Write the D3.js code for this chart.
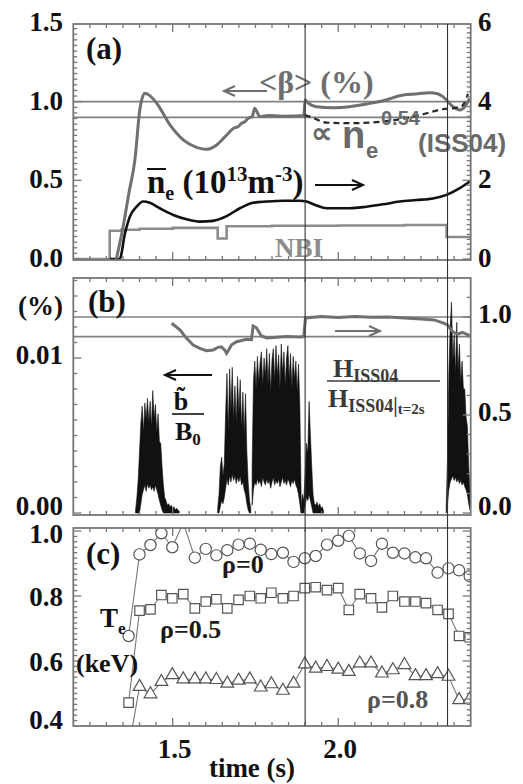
<!DOCTYPE html>
<html>
<head>
<meta charset="utf-8">
<script src="https://cdn.jsdelivr.net/npm/d3@7"></script>
<style>
  body { margin: 0; background: #fff; }
  svg text { font-family: "Liberation Serif", "Times New Roman", serif; font-weight: bold; }
</style>
</head>
<body>
<div id="chart"></div>
<script>
// ---- panel (a): <beta>, n_e, NBI ----
const betaT = [1.330, 1.350, 1.368, 1.386, 1.401, 1.416, 1.430, 1.452, 1.492, 1.532, 1.572, 1.603, 1.633, 1.663, 1.683, 1.698, 1.708, 1.718, 1.728, 1.740, 1.748, 1.756, 1.763, 1.790, 1.830, 1.864, 1.896, 1.900, 1.910, 1.934, 1.985, 2.035, 2.085, 2.136, 2.196, 2.240, 2.276, 2.300, 2.316, 2.347, 2.367, 2.382, 2.397];
const betaV = [0.0, 0.20, 0.42, 0.63, 0.95, 1.053, 1.04, 0.99, 0.852, 0.757, 0.71, 0.697, 0.725, 0.788, 0.83, 0.842, 0.863, 0.872, 0.894, 0.905, 0.958, 0.93, 0.905, 0.912, 0.908, 0.909, 0.912, 1.01, 0.99, 0.968, 0.962, 0.968, 0.985, 1.006, 1.043, 1.05, 1.057, 1.05, 1.032, 0.968, 0.947, 0.968, 1.02];
const issT = [1.899, 1.915, 1.965, 2.035, 2.135, 2.236, 2.316, 2.357, 2.375, 2.392];
const issV = [0.915, 0.905, 0.867, 0.863, 0.873, 0.909, 0.952, 0.962, 0.975, 1.05];
const neT = [1.310, 1.340, 1.356, 1.371, 1.391, 1.411, 1.431, 1.461, 1.502, 1.542, 1.582, 1.622, 1.663, 1.703, 1.743, 1.784, 1.834, 1.884, 1.904, 1.934, 1.965, 2.035, 2.085, 2.135, 2.186, 2.236, 2.286, 2.327, 2.367, 2.397];
const neV = [0, 0, 0.65, 1.08, 1.33, 1.46, 1.43, 1.29, 1.12, 1.01, 0.95, 0.97, 1.09, 1.29, 1.43, 1.46, 1.48, 1.48, 1.46, 1.36, 1.29, 1.29, 1.33, 1.39, 1.46, 1.50, 1.54, 1.63, 1.80, 1.97];
const nbiT = [1.200, 1.310, 1.345, 1.400, 1.500, 1.636, 1.663, 1.800, 2.000, 2.200, 2.327, 2.400];
const nbiV = [0, 0.18, 0.186, 0.192, 0.198, 0.13, 0.208, 0.211, 0.213, 0.216, 0.14, 0.14];
const refA = [1.0, 0.9];

// ---- panel (b): b/B0 bursts and H ratio ----
const burstStart = [1.388, 1.636, 1.740, 1.888, 2.326];
const burstStep = 0.004;
const burstHi = [
  [0.0002, 0.0010, 0.0022, 0.0040, 0.0058, 0.0069, 0.0052, 0.0071, 0.0060, 0.0074, 0.0058, 0.0072, 0.0055, 0.0079, 0.0061, 0.0070, 0.0052, 0.0064, 0.0046, 0.0045, 0.0030, 0.0018, 0.0010, 0.0008, 0.0005, 0.0006, 0.0004, 0.0005, 0.0003, 0.0004, 0.0002, 0.0003, 0.0002, 0.0001],
  [0.0003, 0.0012, 0.0030, 0.0036, 0.0024, 0.0032, 0.0065, 0.0090, 0.0052, 0.0093, 0.0066, 0.0094, 0.0060, 0.0082, 0.0058, 0.0088, 0.0064, 0.0086, 0.0054, 0.0078, 0.0050, 0.0077, 0.0040, 0.0020, 0.0008, 0.0003],
  [0.0030, 0.0085, 0.0098, 0.0080, 0.0101, 0.0084, 0.0097, 0.0104, 0.0082, 0.0100, 0.0088, 0.0106, 0.0083, 0.0103, 0.0078, 0.0099, 0.0106, 0.0085, 0.0108, 0.0088, 0.0102, 0.0080, 0.0109, 0.0090, 0.0104, 0.0082, 0.0100, 0.0108, 0.0086, 0.0103, 0.0080, 0.0101, 0.0086, 0.0098, 0.0078, 0.0096, 0.0070, 0.0010],
  [0.0004, 0.0012, 0.0008, 0.0025, 0.0045, 0.0038, 0.0072, 0.0050, 0.0030, 0.0012, 0.0006, 0.0005, 0.0007, 0.0004, 0.0006, 0.0003, 0.0004, 0.0001],
  [0.0004, 0.0035, 0.0090, 0.0119, 0.0136, 0.0098, 0.0115, 0.0090, 0.0123, 0.0092, 0.0109, 0.0085, 0.0098, 0.0080, 0.0080, 0.0062, 0.0056, 0.0030, 0.0014]
];
const burstLo = [
  [0, 0, 0, 0, 0.0006, 0.0012, 0.0015, 0.0018, 0.0014, 0.0019, 0.0016, 0.0018, 0.0015, 0.0017, 0.0014, 0.0018, 0.0015, 0.0012, 0.0008, 0.0005, 0.0002, 0, 0, 0, 0, 0, 0, 0, 0, 0, 0, 0, 0, 0],
  [0, 0, 0.0004, 0.0008, 0.0006, 0.0010, 0.0016, 0.0022, 0.0018, 0.0024, 0.0020, 0.0025, 0.0021, 0.0024, 0.0019, 0.0023, 0.0020, 0.0024, 0.0018, 0.0020, 0.0015, 0.0012, 0.0006, 0.0002, 0, 0],
  [0.0005, 0.0015, 0.0020, 0.0018, 0.0022, 0.0019, 0.0021, 0.0017, 0.0023, 0.0020, 0.0018, 0.0022, 0.0019, 0.0021, 0.0016, 0.0020, 0.0023, 0.0018, 0.0021, 0.0019, 0.0022, 0.0017, 0.0020, 0.0023, 0.0019, 0.0021, 0.0018, 0.0022, 0.0020, 0.0017, 0.0021, 0.0019, 0.0022, 0.0018, 0.0016, 0.0012, 0.0006, 0],
  [0, 0, 0, 0.0004, 0.0010, 0.0008, 0.0012, 0.0008, 0.0004, 0, 0, 0, 0, 0, 0, 0, 0, 0],
  [0, 0.0006, 0.0015, 0.0020, 0.0022, 0.0024, 0.0021, 0.0023, 0.0020, 0.0022, 0.0019, 0.0021, 0.0018, 0.0020, 0.0017, 0.0015, 0.0012, 0.0006, 0.0002]
];
const hT = [1.497, 1.522, 1.542, 1.562, 1.582, 1.602, 1.622, 1.637, 1.647, 1.657, 1.663, 1.672, 1.678, 1.693, 1.723, 1.738, 1.743, 1.753, 1.768, 1.784, 1.814, 1.844, 1.884, 1.896, 1.901, 1.950, 2.000, 2.050, 2.100, 2.150, 2.200, 2.250, 2.290, 2.320, 2.330, 2.345, 2.360, 2.375, 2.397];
const hV = [0.968, 0.934, 0.891, 0.857, 0.840, 0.828, 0.832, 0.845, 0.848, 0.832, 0.815, 0.84, 0.858, 0.874, 0.886, 0.884, 0.954, 0.945, 0.903, 0.893, 0.897, 0.900, 0.898, 0.900, 0.995, 1.002, 0.998, 1.003, 0.999, 1.0, 0.995, 0.99, 0.985, 0.968, 0.96, 0.925, 0.912, 0.922, 0.905];
const refB = [1.0, 0.9];

// ---- panel (c): Te at rho = 0, 0.5, 0.8 ----
const teT = [1.367, 1.400, 1.433, 1.466, 1.499, 1.532, 1.567, 1.600, 1.632, 1.665, 1.699, 1.733, 1.766, 1.798, 1.833, 1.865, 1.899, 1.932, 1.966, 2.000, 2.032, 2.065, 2.099, 2.132, 2.165, 2.200, 2.233, 2.265, 2.300, 2.333, 2.365, 2.397];
const te0 = [0.677, 0.928, 0.957, 0.993, 0.95, 1.025, 0.918, 0.945, 0.925, 0.941, 0.958, 0.961, 0.942, 0.929, 0.933, 0.905, 0.916, 0.923, 0.958, 0.97, 0.985, 0.931, 0.908, 0.961, 0.933, 0.931, 0.919, 0.916, 0.872, 0.885, 0.879, 0.861];
const te05 = [0.472, 0.755, 0.759, 0.803, 0.793, 0.806, 0.762, 0.783, 0.79, 0.762, 0.788, 0.8, 0.793, 0.81, 0.793, 0.8, 0.824, 0.827, 0.818, 0.824, 0.757, 0.806, 0.793, 0.765, 0.8, 0.783, 0.783, 0.778, 0.757, 0.745, 0.677, 0.673];
const te08 = [0.33, 0.521, 0.498, 0.536, 0.557, 0.544, 0.544, 0.544, 0.542, 0.531, 0.54, 0.544, 0.519, 0.529, 0.509, 0.531, 0.59, 0.577, 0.582, 0.574, 0.567, 0.593, 0.593, 0.562, 0.572, 0.588, 0.554, 0.554, 0.56, 0.552, 0.48, 0.482];

// ---- axes ----
const timeTicks = [1.5, 2.0];
const markTimes = [1.9, 2.33];
const aLeftTicks = [0, 0.5, 1.0, 1.5];
const aRightTicks = [0, 2, 4, 6];
const bLeftTicks = [0, 0.01];
const bRightTicks = [0, 0.5, 1.0];
const cLeftTicks = [0.4, 0.6, 0.8, 1.0];

const frameColor = "#777";
const grayLine = "#707070";

let svg = d3.select("#chart").append("svg").attr("width", 523).attr("height", 784);

let x = d3.scaleLinear().domain([1.2, 2.4]).range([73.3, 470.7]);
let pa = {top: 24, bottom: 260}, pb = {top: 278, bottom: 515}, pc = {top: 528, bottom: 726};

let yA = d3.scaleLinear().domain([0, 1.5]).range([259, 23]);
let yAr = d3.scaleLinear().domain([0, 6]).range([259, 23]);
let yB = d3.scaleLinear().domain([0, 0.01]).range([513, 358]);
let yBr = d3.scaleLinear().domain([0, 1]).range([513, 317]);
let yC = d3.scaleLinear().domain([0.4, 1.0]).range([726, 531]);

// clip paths
[["ca", pa], ["cb", pb], ["cc", pc]].forEach(([id, p]) => {
  svg.append("clipPath").attr("id", id).append("rect")
    .attr("x", x(1.2)).attr("y", p.top)
    .attr("width", x(2.4) - x(1.2)).attr("height", p.bottom - p.top);
});

function frame(p) {
  svg.append("rect").attr("x", x(1.2)).attr("y", p.top)
    .attr("width", x(2.4) - x(1.2)).attr("height", p.bottom - p.top)
    .attr("fill", "none").attr("stroke", frameColor).attr("stroke-width", 1.8);
  let g = svg.append("g").attr("stroke", frameColor).attr("stroke-width", 1.3);
  d3.range(1, 24).forEach(i => {
    let len = i % 10 === 6 ? 8 : 4;
    let xx = x(1.2 + i * 0.05);
    g.append("line").attr("x1", xx).attr("x2", xx).attr("y1", p.bottom).attr("y2", p.bottom - len);
    g.append("line").attr("x1", xx).attr("x2", xx).attr("y1", p.top).attr("y2", p.top + len);
  });
}

function yTicks(p, scale, start, step, count, majorEvery, side) {
  let g = svg.append("g").attr("stroke", frameColor).attr("stroke-width", 1.3);
  let x0 = side === "left" ? x(1.2) : x(2.4);
  let dir = side === "left" ? 1 : -1;
  d3.range(0, count + 1).forEach(i => {
    let yy = scale(start + i * step);
    if (yy < p.top + 1 || yy > p.bottom - 1) return;
    let len = i % majorEvery === 0 ? 8 : 4;
    g.append("line").attr("x1", x0).attr("x2", x0 + dir * len).attr("y1", yy).attr("y2", yy);
  });
}

function tickLabels(vals, scale, side, off, fmt, maxY, minY) {
  vals.forEach(v => {
    let yy = Math.max(Math.min(scale(v) + off, maxY), minY || 0);
    svg.append("text")
      .attr("x", side === "left" ? 63 : 478)
      .attr("y", yy)
      .attr("text-anchor", side === "left" ? "end" : "start")
      .attr("font-size", 27)
      .attr("fill", "#111")
      .text(fmt(v));
  });
}

function arrow(x1, x2, yy, color, w) {
  let g = svg.append("g").attr("stroke", color).attr("stroke-width", w || 2).attr("fill", "none");
  g.append("line").attr("x1", x1).attr("x2", x2).attr("y1", yy).attr("y2", yy);
  let d = x2 > x1 ? -1 : 1;
  g.append("path").attr("d", `M${x2 + d * 11},${yy - 5} L${x2},${yy} L${x2 + d * 11},${yy + 5}`);
}

// ---------- panel (a) ----------
let ga = svg.append("g").attr("clip-path", "url(#ca)");
refA.forEach(v => {
  ga.append("line").attr("x1", x(1.2)).attr("x2", x(2.4)).attr("y1", yA(v)).attr("y2", yA(v))
    .attr("stroke", "#808080").attr("stroke-width", 1.6);
});
let nbi = nbiT.map((t, i) => [t, nbiV[i]]);
ga.append("path").datum(nbi)
  .attr("d", d3.line().x(d => x(d[0])).y(d => yA(d[1])).curve(d3.curveStepAfter))
  .attr("fill", "none").attr("stroke", "#8c8c8c").attr("stroke-width", 2.6);
let ne = neT.map((t, i) => [t, neV[i]]);
ga.append("path").datum(ne)
  .attr("d", d3.line().x(d => x(d[0])).y(d => yAr(d[1])).curve(d3.curveMonotoneX))
  .attr("fill", "none").attr("stroke", "#111").attr("stroke-width", 2.6);
let beta = betaT.map((t, i) => [t, betaV[i]]);
ga.append("path").datum(beta)
  .attr("d", d3.line().x(d => x(d[0])).y(d => yA(d[1])).curve(d3.curveMonotoneX))
  .attr("fill", "none").attr("stroke", grayLine).attr("stroke-width", 3);
let iss = issT.map((t, i) => [t, issV[i]]);
ga.append("path").datum(iss)
  .attr("d", d3.line().x(d => x(d[0])).y(d => yA(d[1])).curve(d3.curveMonotoneX))
  .attr("fill", "none").attr("stroke", "#2a2a2a").attr("stroke-width", 2.2)
  .attr("stroke-dasharray", "6,4");

frame(pa);
yTicks(pa, yA, 0, 0.5 / 14, 42, 14, "left");
yTicks(pa, yAr, 0, 0.125, 48, 16, "right");
tickLabels(aLeftTicks, yA, "left", 8, d3.format(".1f"), 999);
tickLabels(aRightTicks, yAr, "right", 8, d3.format("d"), 999);

svg.append("text").attr("x", 86).attr("y", 59).attr("font-size", 31).attr("fill", "#111").text("(a)");
svg.append("text").attr("x", 259).attr("y", 93).attr("font-size", 32).attr("fill", "#6e6e6e").text("<β> (%)");
arrow(267, 224, 91, "#6e6e6e", 2);

let iss04 = svg.append("text").attr("x", 311).attr("y", 143).attr("fill", "#6a6a6a")
  .style("font-family", "'Liberation Sans', Arial, sans-serif").style("font-weight", "bold");
iss04.append("tspan").attr("font-size", 30).text("∝");
iss04.append("tspan").attr("x", 342).attr("y", 148).attr("font-size", 38).text("n");
iss04.append("tspan").attr("x", 366).attr("y", 158).attr("font-size", 22).text("e");
iss04.append("tspan").attr("x", 381).attr("y", 125).attr("font-size", 20).text("0.54");
iss04.append("tspan").attr("x", 418).attr("y", 152).attr("font-size", 26).text("(ISS04)");

let neLab = svg.append("text").attr("x", 147).attr("y", 193).attr("font-size", 33).attr("fill", "#111");
neLab.append("tspan").text("n");
neLab.append("tspan").attr("font-size", 20).attr("dy", 7).text("e");
neLab.append("tspan").attr("dy", -7).text(" (10");
neLab.append("tspan").attr("font-size", 21).attr("dy", -12).text("13");
neLab.append("tspan").attr("dy", 12).text("m");
neLab.append("tspan").attr("font-size", 21).attr("dy", -12).text("-3");
neLab.append("tspan").attr("dy", 12).text(")");
svg.append("line").attr("x1", 147).attr("x2", 166).attr("y1", 169).attr("y2", 169)
  .attr("stroke", "#111").attr("stroke-width", 2);
arrow(315, 363, 185, "#111", 2);
svg.append("text").attr("x", 299).attr("y", 257).attr("text-anchor", "middle")
  .attr("font-size", 27).attr("fill", "#8c8c8c").text("NBI");

// ---------- panel (b) ----------
let gb = svg.append("g").attr("clip-path", "url(#cb)");
refB.forEach(v => {
  gb.append("line").attr("x1", x(1.2)).attr("x2", x(2.4)).attr("y1", yBr(v)).attr("y2", yBr(v))
    .attr("stroke", "#808080").attr("stroke-width", 1.6);
});
let burstArea = d3.area().x(d => x(d[0])).y0(d => yB(d[1])).y1(d => yB(d[2]));
burstStart.forEach((t0, k) => {
  let pts = burstHi[k].map((v, i) => [t0 + i * burstStep, burstLo[k][i], v]);
  gb.append("path").datum(pts).attr("d", burstArea)
    .attr("fill", "#111").attr("stroke", "#111").attr("stroke-width", 0.6);
});
let hr = hT.map((t, i) => [t, hV[i]]);
gb.append("path").datum(hr)
  .attr("d", d3.line().x(d => x(d[0])).y(d => yBr(d[1])))
  .attr("fill", "none").attr("stroke", grayLine).attr("stroke-width", 3);

frame(pb);
yTicks(pb, yB, 0, 0.001, 15, 10, "left");
yTicks(pb, yBr, 0, 0.1, 12, 5, "right");
tickLabels(bLeftTicks, yB, "left", 6, d3.format(".2f"), 515);
tickLabels(bRightTicks, yBr, "right", 6, d3.format(".1f"), 515);
svg.append("text").attr("x", 63).attr("y", 315).attr("text-anchor", "end")
  .attr("font-size", 27).attr("fill", "#111").text("(%)");
svg.append("text").attr("x", 88).attr("y", 312).attr("font-size", 31).attr("fill", "#111").text("(b)");

arrow(212, 165, 375, "#111", 2);
svg.append("text").attr("x", 181).attr("y", 410).attr("text-anchor", "middle")
  .attr("font-size", 26).attr("fill", "#111").text("b\u0303");
svg.append("line").attr("x1", 172).attr("x2", 204).attr("y1", 414).attr("y2", 414)
  .attr("stroke", "#111").attr("stroke-width", 1.6);
let b0 = svg.append("text").attr("x", 175).attr("y", 440).attr("font-size", 26).attr("fill", "#111");
b0.append("tspan").text("B");
b0.append("tspan").attr("font-size", 17).attr("dy", 5).text("0");

arrow(335, 380, 331, grayLine, 2);
let hn = svg.append("text").attr("x", 333).attr("y", 377).attr("font-size", 26).attr("fill", "#3a3a3a");
hn.append("tspan").text("H");
hn.append("tspan").attr("font-size", 18).attr("dy", 5).text("ISS04");
svg.append("line").attr("x1", 327).attr("x2", 440).attr("y1", 381).attr("y2", 381)
  .attr("stroke", "#3a3a3a").attr("stroke-width", 1.6);
let hd = svg.append("text").attr("x", 328).attr("y", 407).attr("font-size", 26).attr("fill", "#3a3a3a");
hd.append("tspan").text("H");
hd.append("tspan").attr("font-size", 18).attr("dy", 5).text("ISS04");
hd.append("tspan").attr("font-size", 20).attr("dy", 0).text("|");
hd.append("tspan").attr("font-size", 15).attr("dy", 2).text("t=2s");

// ---------- panel (c) ----------
let gc = svg.append("g").attr("clip-path", "url(#cc)");
let series = [
  {v: te0, sym: d3.symbolCircle, size: 100},
  {v: te05, sym: d3.symbolSquare, size: 90},
  {v: te08, sym: d3.symbolTriangle, size: 70}
];
series.forEach(s => {
  let pts = teT.map((t, i) => [t, s.v[i]]);
  gc.append("path").datum(pts)
    .attr("d", d3.line().x(d => x(d[0])).y(d => yC(d[1])))
    .attr("fill", "none").attr("stroke", "#777").attr("stroke-width", 1.1);
  gc.selectAll(null).data(pts).enter().append("path")
    .attr("transform", d => `translate(${x(d[0])},${yC(d[1])})`)
    .attr("d", d3.symbol().type(s.sym).size(s.size))
    .attr("fill", "#fff").attr("stroke", "#555").attr("stroke-width", 1.2);
});

frame(pc);
yTicks(pc, yC, 0.4, 0.2 / 12, 36, 12, "left");
yTicks(pc, yC, 0.4, 0.2 / 12, 36, 12, "right");
tickLabels(cLeftTicks, yC, "left", 10, d3.format(".1f"), 729, 543);
timeTicks.forEach(t => {
  svg.append("text").attr("x", x(t) + 2).attr("y", 758).attr("text-anchor", "middle")
    .attr("font-size", 27).attr("fill", "#111").text(d3.format(".1f")(t));
});
svg.append("text").attr("x", 252).attr("y", 777).attr("text-anchor", "middle")
  .attr("font-size", 27).attr("fill", "#111").text("time (s)");

svg.append("text").attr("x", 86).attr("y", 564).attr("font-size", 31).attr("fill", "#111").text("(c)");
svg.append("text").attr("x", 222).attr("y", 573).attr("font-size", 26).attr("fill", "#1a1a1a").text("ρ=0");
svg.append("text").attr("x", 160).attr("y", 638).attr("font-size", 26).attr("fill", "#1a1a1a").text("ρ=0.5");
svg.append("text").attr("x", 367).attr("y", 708).attr("font-size", 26).attr("fill", "#555").text("ρ=0.8");
let te = svg.append("text").attr("x", 100).attr("y", 627).attr("font-size", 27).attr("fill", "#111");
te.append("tspan").text("T");
te.append("tspan").attr("font-size", 17).attr("dy", 7).text("e");
svg.append("text").attr("x", 76).attr("y", 672).attr("font-size", 26).attr("fill", "#111").text("(keV)");

// vertical time markers through all panels
markTimes.forEach(t => {
  svg.append("line").attr("x1", x(t)).attr("x2", x(t)).attr("y1", pa.top).attr("y2", pc.bottom)
    .attr("stroke", "#333").attr("stroke-width", 1.1);
});
</script>
</body>
</html>
